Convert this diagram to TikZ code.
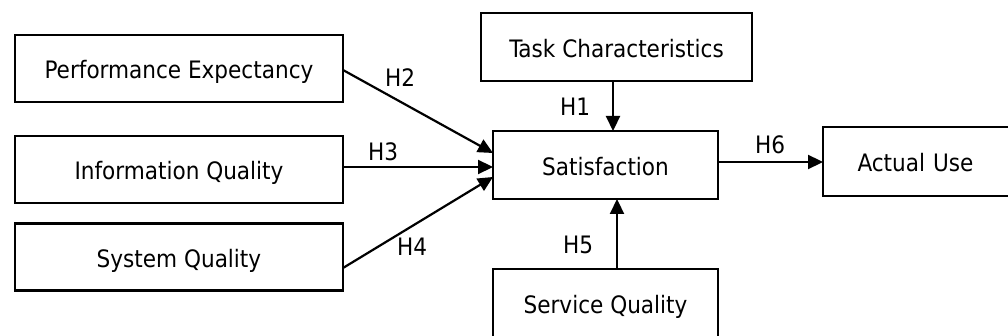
\documentclass[tikz,border=0pt]{standalone}
\usepackage{fontspec}
\setmainfont{DejaVu Sans Condensed}
\usetikzlibrary{arrows.meta}
\begin{document}
\begin{tikzpicture}[x=1pt,y=-1pt,
  box/.style={draw, line width=2.2pt, inner sep=0pt, text height=20.5pt, text depth=0pt, font=\fontsize{24}{28}\selectfont},
  arr/.style={line width=2.2pt, -{Triangle[length=15pt,width=14pt]}},
  lab/.style={font=\fontsize{24}{28}\selectfont, inner sep=0pt}]
\useasboundingbox (0,0) rectangle (1008,336);
\clip (0,0) rectangle (1008,336);
\fill[white] (0,0) rectangle (1008,336);
\node[box, minimum width=328pt, minimum height=67pt] (pe) at (179,68.5) {Performance Expectancy};
\node[box, minimum width=328pt, minimum height=67pt] (iq) at (179,169.5) {Information Quality};
\node[box, minimum width=328pt, minimum height=67pt] (sq) at (179,257) {System Quality};
\node[box, minimum width=225pt, minimum height=68pt] (sat) at (605.5,165) {Satisfaction};
\node[box, minimum width=271pt, minimum height=68pt] (tc) at (616.5,47) {Task Characteristics};
\node[box, minimum width=225pt, minimum height=68pt] (sv) at (605.5,303) {Service Quality};
\node[box, minimum width=225pt, minimum height=69pt, text width=184pt, align=left] (au) at (935.5,161.5) {\hspace*{14pt}Actual Use};
\coordinate (peo) at (343,70);
\coordinate (iqo) at (343,167);
\coordinate (sqo) at (343,268);
\coordinate (sati1) at (493,153);
\coordinate (sati2) at (493,167);
\coordinate (sati3) at (493,177);
\coordinate (tco) at (613,81);
\coordinate (sati4) at (613,131);
\coordinate (svo) at (617,269);
\coordinate (sati5) at (617,199);
\coordinate (sato) at (718,162);
\coordinate (aui) at (823,162);
\draw[arr] (peo) -- (sati1);
\draw[arr] (iqo) -- (sati2);
\draw[arr] (sqo) -- (sati3);
\draw[arr] (tco) -- (sati4);
\draw[arr] (svo) -- (sati5);
\draw[arr] (sato) -- (aui);
\node[lab] (h2) at (400,78) {H2};
\node[lab] (h3) at (383,152) {H3};
\node[lab] (h4) at (412,247) {H4};
\node[lab] (h1) at (575,107) {H1};
\node[lab] (h5) at (578,245) {H5};
\node[lab] (h6) at (770,145) {H6};
\end{tikzpicture}
\end{document}
